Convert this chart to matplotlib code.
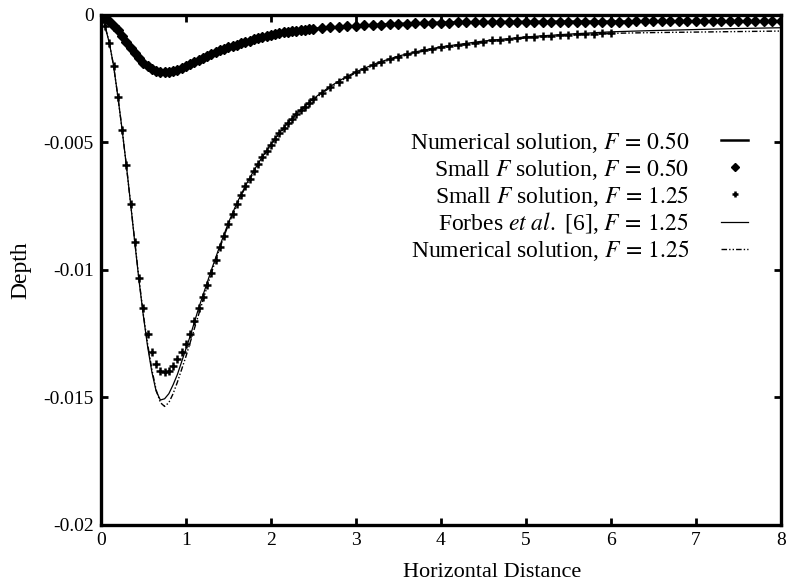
import matplotlib
matplotlib.use("Agg")
import matplotlib.pyplot as plt
from matplotlib.ticker import MultipleLocator, FuncFormatter
import numpy as np

plt.rcParams['font.family'] = 'Liberation Serif'
plt.rcParams['mathtext.fontset'] = 'stix'
plt.rcParams['axes.unicode_minus'] = False

# depth values are given in units of 1e-3 (positive = below the surface)

# x grid for the smooth (line) curves
x_line = [0.0, 0.05, 0.1, 0.15, 0.2, 0.25, 0.3, 0.35, 0.4, 0.45, 0.5, 0.55,
          0.6, 0.65, 0.7, 0.75, 0.8, 0.85, 0.9, 0.95, 1.0, 1.05, 1.1, 1.15,
          1.2, 1.25, 1.3,
          1.4, 1.5, 1.6, 1.7, 1.8, 1.9, 2.0, 2.1, 2.2, 2.3, 2.4, 2.5, 2.6,
          2.7, 2.8, 2.9, 3.0,
          3.25, 3.5, 3.75, 4.0, 4.5, 5.0, 5.5, 6.0, 6.5, 7.0, 7.5, 8.0]

num_f050 = [0, 0.1, 0.24, 0.42, 0.6, 0.82, 1.05, 1.28, 1.5, 1.7, 1.88, 2.02,
            2.12, 2.19, 2.23, 2.24, 2.23, 2.2, 2.15, 2.08, 2.0, 1.92, 1.84, 1.76,
            1.68, 1.6, 1.53,
            1.39, 1.27, 1.16, 1.06, 0.96, 0.86, 0.78, 0.71, 0.65, 0.61, 0.57, 0.54, 0.52,
            0.49, 0.47, 0.45, 0.43,
            0.385, 0.35, 0.325, 0.30, 0.28, 0.27, 0.26, 0.26, 0.25, 0.25, 0.25, 0.24]

forbes_f125 = [0, 0.45, 1.1, 2.0, 3.2, 4.5, 5.9, 7.4, 8.95, 10.45, 11.8, 13.0,
               14.0, 14.75, 15.1, 15.05, 14.85, 14.5, 14.1, 13.6, 13.1, 12.6, 12.05, 11.5,
               11.0, 10.5, 10.0,
               9.05, 8.15, 7.38, 6.7, 6.1, 5.56, 5.06, 4.62, 4.23, 3.88, 3.57, 3.29, 3.03,
               2.8, 2.59, 2.4, 2.23,
               1.88, 1.61, 1.41, 1.25, 1.02, 0.86, 0.75, 0.66, 0.61, 0.57, 0.53, 0.5]

num_f125 = [0, 0.45, 1.1, 2.0, 3.2, 4.5, 5.9, 7.4, 8.9, 10.4, 11.75, 12.9,
            13.9, 14.7, 15.2, 15.35, 15.2, 14.85, 14.4, 13.9, 13.4, 12.85, 12.3, 11.75,
            11.2, 10.65, 10.12,
            9.12, 8.22, 7.44, 6.75, 6.15, 5.6, 5.1, 4.66, 4.27, 3.92, 3.61, 3.33, 3.07,
            2.84, 2.63, 2.44, 2.27,
            1.92, 1.65, 1.45, 1.29, 1.06, 0.9, 0.79, 0.72, 0.69, 0.67, 0.65, 0.63]

# x grid for the small-F solution points
x_pts = [0.0, 0.05, 0.1, 0.15, 0.2, 0.25, 0.3, 0.35, 0.4, 0.45, 0.5, 0.55,
         0.6, 0.65, 0.7, 0.75, 0.8, 0.85, 0.9, 0.95, 1.0, 1.05, 1.1, 1.15,
         1.2, 1.25, 1.3, 1.35, 1.4, 1.45, 1.5, 1.55, 1.6, 1.65, 1.7, 1.75,
         1.8, 1.85, 1.9, 1.95, 2.0, 2.05, 2.1, 2.15, 2.2, 2.25, 2.3, 2.35,
         2.4, 2.45, 2.5,
         2.6, 2.7, 2.8, 2.9, 3.0, 3.1, 3.2, 3.3, 3.4, 3.5, 3.6, 3.7, 3.8, 3.9,
         4.0, 4.1, 4.2, 4.3, 4.4, 4.5, 4.6, 4.7, 4.8, 4.9, 5.0, 5.1, 5.2, 5.3,
         5.4, 5.5, 5.6, 5.7, 5.8, 5.9, 6.0, 6.1, 6.2, 6.3, 6.4, 6.5, 6.6, 6.7,
         6.8, 6.9, 7.0, 7.1, 7.2, 7.3, 7.4, 7.5, 7.6, 7.7, 7.8, 7.9, 8.0]

small_f050 = [0, 0.1, 0.24, 0.42, 0.6, 0.82, 1.05, 1.28, 1.5, 1.7, 1.88, 2.02,
              2.12, 2.19, 2.23, 2.24, 2.23, 2.2, 2.15, 2.08, 2.0, 1.92, 1.84, 1.76,
              1.68, 1.6, 1.53, 1.46, 1.39, 1.33, 1.27, 1.21, 1.16, 1.11, 1.06, 1.01,
              0.96, 0.91, 0.86, 0.82, 0.78, 0.74, 0.71, 0.68, 0.65, 0.63, 0.61, 0.59,
              0.57, 0.555, 0.54,
              0.52, 0.49, 0.47, 0.45, 0.43, 0.41, 0.39, 0.38, 0.36, 0.35, 0.34, 0.33,
              0.32, 0.31, 0.30, 0.30, 0.29, 0.29, 0.28, 0.28, 0.28, 0.27, 0.27, 0.27,
              0.27, 0.27, 0.26, 0.26, 0.26, 0.26, 0.26, 0.26, 0.26, 0.26, 0.26, 0.26,
              0.26, 0.25, 0.25, 0.25, 0.25, 0.25, 0.25, 0.25, 0.25, 0.25, 0.25, 0.25,
              0.25, 0.25, 0.24, 0.24, 0.24, 0.24, 0.24]

# the F = 1.25 small-F points stop at x = 6
small_f125 = [0, 0.45, 1.1, 2.0, 3.2, 4.5, 5.9, 7.4, 8.9, 10.3, 11.5, 12.5,
              13.2, 13.7, 13.95, 14.0, 13.95, 13.75, 13.5, 13.2, 12.9, 12.5, 12.0, 11.5,
              11.05, 10.6, 10.1, 9.6, 9.1, 8.65, 8.2, 7.8, 7.42, 7.05, 6.72, 6.42,
              6.12, 5.85, 5.58, 5.32, 5.08, 4.86, 4.64, 4.44, 4.25, 4.07, 3.9, 3.74,
              3.59, 3.45, 3.31,
              3.05, 2.82, 2.61, 2.42, 2.25, 2.1, 1.96, 1.84, 1.73, 1.63, 1.54, 1.46,
              1.39, 1.32, 1.26, 1.21, 1.16, 1.12, 1.08, 1.04, 1.0, 0.97, 0.94, 0.91,
              0.88, 0.86, 0.84, 0.82, 0.80, 0.78, 0.76, 0.75, 0.73, 0.72, 0.70]

labels = [r"Numerical solution, $F\,=\,0.50$",
          r"Small $F$ solution, $F\,=\,0.50$",
          r"Small $F$ solution, $F\,=\,1.25$",
          r"Forbes $et\ al.$ [6], $F\,=\,1.25$",
          r"Numerical solution, $F\,=\,1.25$"]

def depth(v):
    return -np.array(v) * 1e-3

fig = plt.figure(figsize=(7.88, 5.81), dpi=100)
ax = fig.add_axes([0.128, 0.0964, 0.863, 0.8778])

ax.plot(x_line, depth(num_f050), "-", color="k", lw=1.8, label=labels[0])
ax.plot(x_pts, depth(small_f050), "D", color="k", ms=5, ls="none", label=labels[1])
ax.plot(x_pts[:len(small_f125)], depth(small_f125), "+", color="k", ms=5.5, mew=1.8,
        ls="none", label=labels[2])
ax.plot(x_line, depth(forbes_f125), "-", color="k", lw=0.9, label=labels[3])
ax.plot(x_line, depth(num_f125), color="k", lw=1.0,
        dashes=(4, 1.5, 1, 1.5, 1, 1.5), label=labels[4])

ax.set_xlim(0, 8)
ax.set_ylim(-0.02, 0)
ax.xaxis.set_major_locator(MultipleLocator(1))
ax.yaxis.set_major_locator(MultipleLocator(0.005))
ax.yaxis.set_major_formatter(FuncFormatter(lambda v, p: "%g" % round(v, 6)))
ax.tick_params(direction="in", length=5, width=2, top=True, right=True,
               labelsize=14, pad=5)
for s in ax.spines.values():
    s.set_linewidth(2.4)

ax.set_xlabel("Horizontal Distance", fontsize=16, labelpad=8)
ax.xaxis.set_label_coords(0.575, -0.075)
ax.set_ylabel("Depth", fontsize=17, labelpad=9)

leg = ax.legend(loc="upper right", bbox_to_anchor=(0.952, 0.775), frameon=False,
                markerfirst=False, numpoints=1, fontsize=17, handlelength=1.15,
                handletextpad=1.35, labelspacing=0.08, borderpad=0, borderaxespad=0,
                markerscale=0.75)
# right-align the legend rows, gnuplot style
for col in leg._legend_handle_box.get_children():
    col.align = "right"

fig.savefig("out.png", dpi=100)
